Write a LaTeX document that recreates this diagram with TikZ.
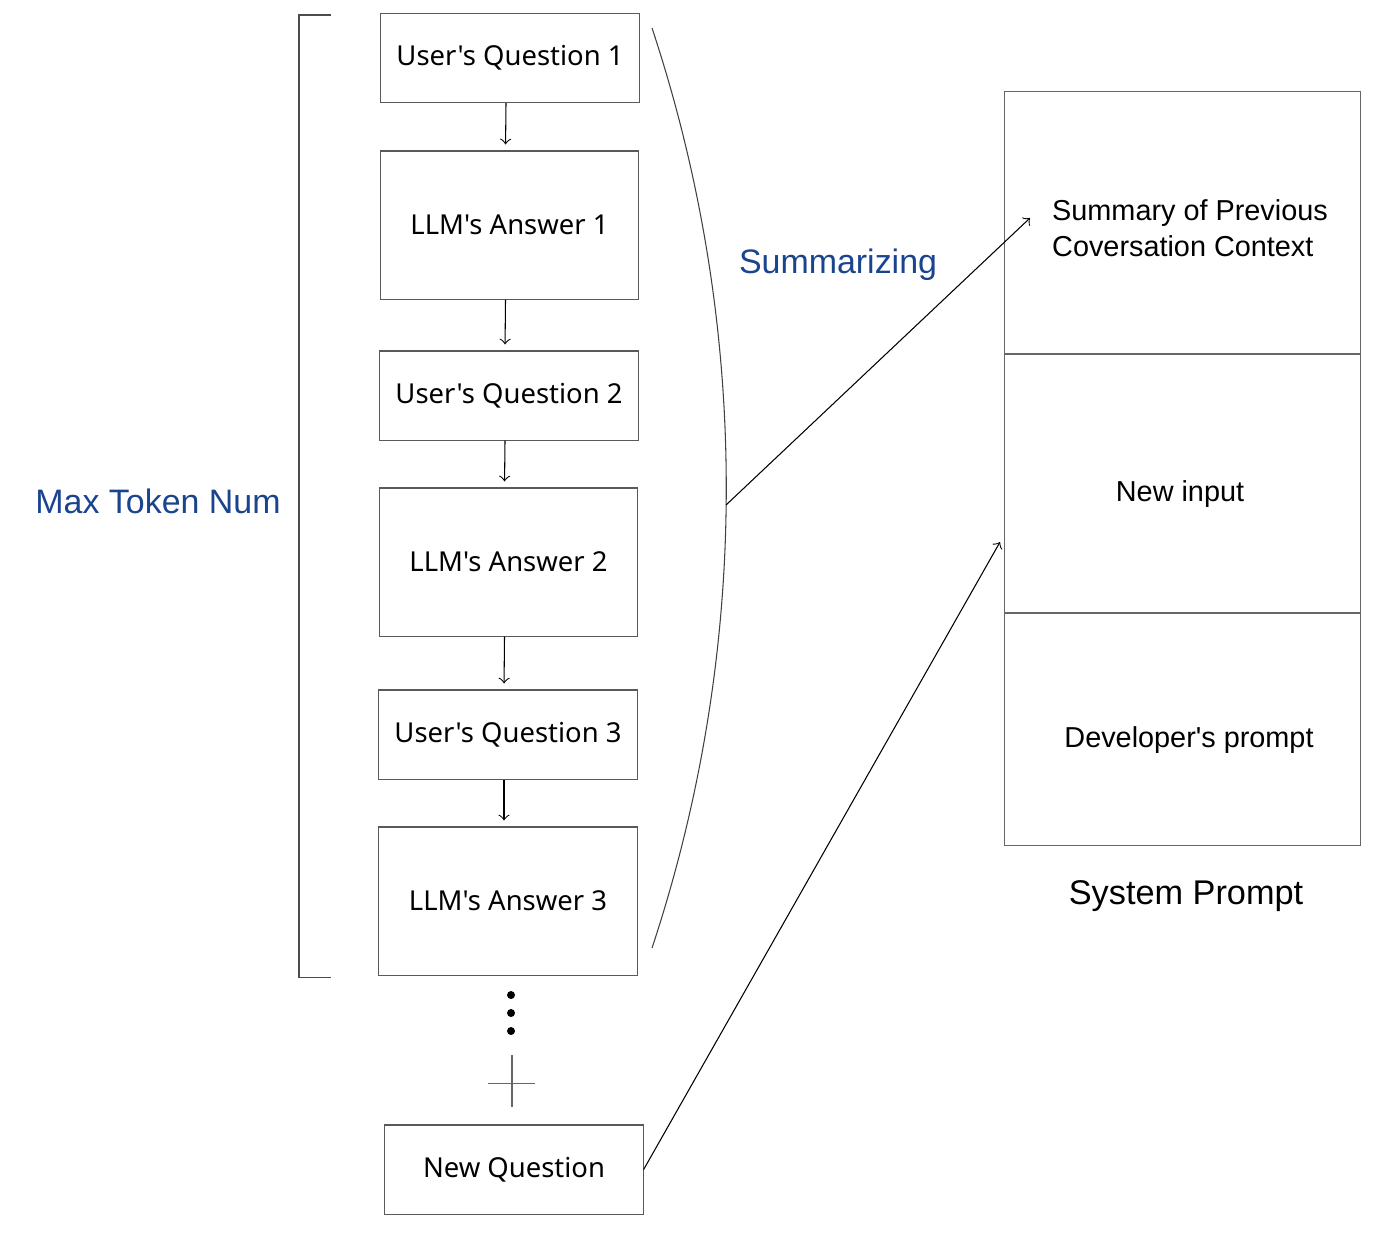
\documentclass[tikz,border=0pt]{standalone}
\usepackage{fontspec}
\setmainfont{Liberation Sans}
\newfontfamily\chatfont{Noto Sans}
\usepackage{xcolor}
\usetikzlibrary{arrows, positioning}

\definecolor{labelblue}{RGB}{26,68,142}

\begin{document}
\begin{tikzpicture}[
    x=0.01cm, y=-0.01cm,
    line width=0.3pt,
    chat/.style={rectangle, draw=black!65, minimum width=2.58cm, align=center, font=\chatfont\fontsize{7.8}{9.5}\selectfont},
    qbox/.style={chat, minimum height=0.89cm},
    abox/.style={chat, minimum height=1.48cm},
    sysbox/.style={rectangle, draw=black!60, minimum width=3.55cm},
    systext/.style={font=\fontsize{8.2}{10.4}\selectfont},
    bluelabel/.style={text=labelblue, font=\fontsize{9.65}{11}\selectfont}
]
\useasboundingbox (0,0) rectangle (1398,1244);

% conversation history
\node (q1) [qbox] at (510,58)    {User's Question 1};
\node (a1) [abox] at (509.5,225) {LLM's Answer 1};
\node (q2) [qbox] at (509,395.5) {User's Question 2};
\node (a2) [abox] at (508.5,562) {LLM's Answer 2};
\node (q3) [qbox] at (508,734.5) {User's Question 3};
\node (a3) [abox] at (508,901)   {LLM's Answer 3};

\foreach \from/\to in {q1/a1, a1/q2, q2/a2, a2/q3, q3/a3}
    \draw [->, shorten >=0.06cm] ([xshift=-0.04cm]\from.south) -- ([xshift=-0.04cm]\to.north);

\fill (511,995) circle (0.04cm);
\fill (511,1013) circle (0.04cm);
\fill (511,1031) circle (0.04cm);
\draw [black!60] (488,1083) -- (535,1083) (512,1055) -- (512,1107);

\node (nq) [qbox] at (514,1169.5) {New Question};

% token limit bracket
\draw [black!70] (331,15) -- (299,15) -- (299,977) -- (331,977);
\node (maxtok) [bluelabel] at (158,501) {Max Token Num};

% summarizing arc
\coordinate (arctop) at (652,28);
\coordinate (arcmid) at (726,505);
\coordinate (arcbot) at (652,948);
\draw [black!75] (arctop) .. controls (751,327) and (751,649) .. (arcbot);
\node (summ) [bluelabel] at (838,265) {Summarizing};

% system prompt
\node (sum) [sysbox, minimum height=2.62cm] at (1182.5,223) {};
\node (sumtxt) [systext, align=left] at (1190,228) {Summary of Previous\\Coversation Context};
\node (inp) [sysbox, minimum height=2.59cm] at (1182.5,483.5) {};
\node (inptxt) [systext] at (1180,494) {New input};
\node (dev) [sysbox, minimum height=2.32cm] at (1182.5,729) {};
\node (devtxt) [systext] at (1189,740) {Developer\textquotesingle s prompt};
\node (sysname) [font=\fontsize{9.75}{12}\selectfont] at (1186,896) {System Prompt};

\coordinate (sumtip) at (1030,218);
\coordinate (inptip) at (1000,542);
\draw [->] (arcmid) -- (sumtip);
\draw [->] (nq.east) -- (inptip);

\end{tikzpicture}
\end{document}
